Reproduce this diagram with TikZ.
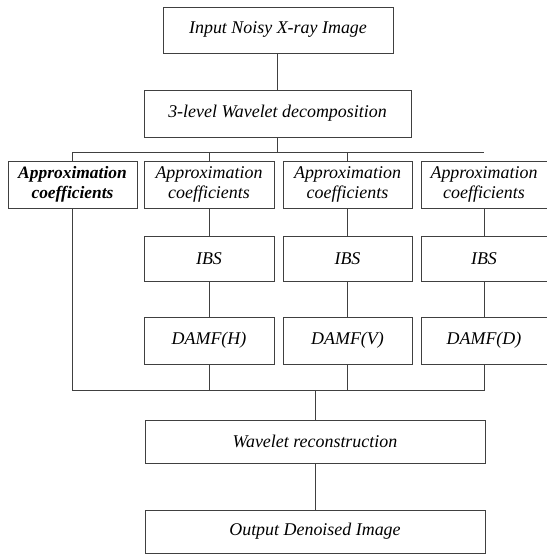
\documentclass[tikz,border=0pt]{standalone}
\usepackage{fontspec}
\setmainfont{Liberation Serif}
\usepackage{tikz}
\usetikzlibrary{calc}

\begin{document}
\begin{tikzpicture}[x=1bp, y=-1bp,
		blk/.style={draw=black!75, line width=0.6bp, inner sep=0pt, align=center,
			font=\fontsize{18}{20.5}\selectfont\itshape, minimum height=46bp},
		wire/.style={draw=black!75, line width=0.6bp}]
			%%%%% START %%%%%
			
			\useasboundingbox (0, 0) rectangle (547, 555);
			
			\node[blk, minimum width=230bp] (input) at (278, 30) {Input Noisy X-ray Image};
			\node[blk, minimum width=267bp, minimum height=47bp] (decomp) at (277.5, 113.5) {3-level Wavelet decomposition};
			
			\node[blk, minimum width=129bp, minimum height=47bp, font=\fontsize{17.5}{20.5}\selectfont\itshape\bfseries] (app1) at (72.5, 184.5) {Approximation\\coefficients};
			\node[blk, minimum width=130bp, minimum height=47bp] (app2) at (209, 184.5) {Approximation\\coefficients};
			\node[blk, minimum width=129bp, minimum height=47bp] (app3) at (347.5, 184.5) {Approximation\\coefficients};
			\node[blk, minimum width=126bp, minimum height=47bp] (app4) at (484, 184.5) {Approximation\\coefficients};
			
			\node[blk, minimum width=130bp, minimum height=45bp] (ibs1) at (209, 258.5) {IBS};
			\node[blk, minimum width=129bp, minimum height=45bp] (ibs2) at (347.5, 258.5) {IBS};
			\node[blk, minimum width=126bp, minimum height=45bp] (ibs3) at (484, 258.5) {IBS};
			
			\node[blk, minimum width=130bp, minimum height=47bp] (damf1) at (209, 340.5) {DAMF(H)};
			\node[blk, minimum width=129bp, minimum height=47bp] (damf2) at (347.5, 340.5) {DAMF(V)};
			\node[blk, minimum width=126bp, minimum height=47bp] (damf3) at (484, 340.5) {DAMF(D)};
			
			\node[blk, minimum width=340bp, minimum height=43bp] (recon) at (315, 441.5) {Wavelet reconstruction};
			\node[blk, minimum width=340bp, minimum height=43bp] (output) at (315, 531.5) {Output Denoised Image};
			
			% split and merge lines
			\coordinate (topbus) at (0, 152);
			\coordinate (botbus) at (0, 390);
			
			\draw[wire] (input.south) -- (decomp.south |- input.south) -- (decomp.north);
			\draw[wire] (decomp.south) -- (decomp.south |- topbus);
			\draw[wire] (app1.north) -- (app1.north |- topbus) -- (app4.north |- topbus);
			\draw[wire] (app2.north) -- (app2.north |- topbus);
			\draw[wire] (app3.north) -- (app3.north |- topbus);
			
			\draw[wire] (app2.south) -- (ibs1.north);
			\draw[wire] (app3.south) -- (ibs2.north);
			\draw[wire] (app4.south) -- (ibs3.north);
			\draw[wire] (ibs1.south) -- (damf1.north);
			\draw[wire] (ibs2.south) -- (damf2.north);
			\draw[wire] (ibs3.south) -- (damf3.north);
			
			\draw[wire] (app1.south) -- (app1.south |- botbus) -- (damf3.south |- botbus) -- (damf3.south);
			\draw[wire] (damf1.south) -- (damf1.south |- botbus);
			\draw[wire] (damf2.south) -- (damf2.south |- botbus);
			\draw[wire] (recon.north |- botbus) -- (recon.north);
			
			\draw[wire] (recon.south) -- (output.north);
			
			%%%%% END %%%%%
		\end{tikzpicture}
\end{document}
